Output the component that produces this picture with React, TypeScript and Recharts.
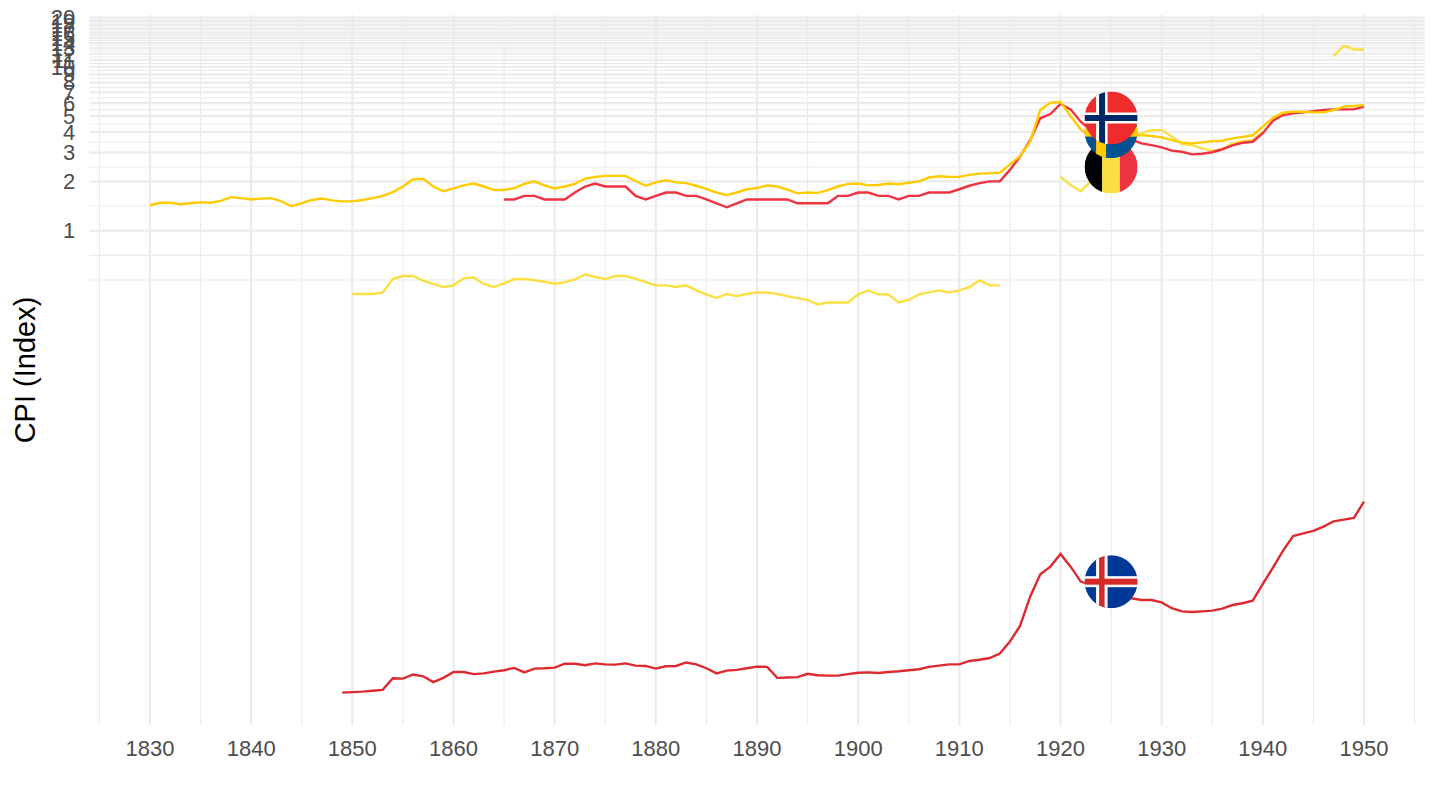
import { CartesianGrid, Line, LineChart, ReferenceDot, XAxis, YAxis } from 'recharts';

const startYear = 1830;
const endYear = 1950;

const xTicks = [1830, 1840, 1850, 1860, 1870, 1880, 1890, 1900, 1910, 1920, 1930, 1940, 1950];
const xMinor = [1825, 1835, 1845, 1855, 1865, 1875, 1885, 1895, 1905, 1915, 1925, 1935, 1945, 1955];
const yTicks = [1, 2, 3, 4, 5, 6, 7, 8, 9, 10, 11, 12, 13, 14, 15, 16, 17, 18, 19, 20];
const yMinor = [0.5, 0.707, 1.414, 2.449, 3.464, 4.472, 5.477, 6.481, 7.483, 8.485, 9.487, 10.49, 11.49, 12.49, 13.49, 14.49, 15.49, 16.49, 17.49, 18.49, 19.49];

// from 1830
const sweden = [
  1.43, 1.48, 1.48, 1.45, 1.47, 1.49, 1.48, 1.52, 1.6, 1.58,
  1.55, 1.57, 1.58, 1.51, 1.41, 1.47, 1.54, 1.57, 1.53, 1.51,
  1.51, 1.54, 1.58, 1.63, 1.72, 1.86, 2.06, 2.07, 1.86, 1.74,
  1.81, 1.89, 1.94, 1.86, 1.77, 1.77, 1.82, 1.93, 2.0, 1.89,
  1.81, 1.86, 1.93, 2.08, 2.13, 2.16, 2.16, 2.16, 2.01, 1.88,
  1.97, 2.03, 1.97, 1.95, 1.88, 1.8, 1.71, 1.65, 1.71, 1.79,
  1.82, 1.89, 1.86, 1.78, 1.69, 1.71, 1.7, 1.77, 1.86, 1.93,
  1.94, 1.89, 1.9, 1.94, 1.92, 1.96, 2.0, 2.11, 2.15, 2.13,
  2.13, 2.19, 2.23, 2.24, 2.26, 2.54, 2.85, 3.49, 5.45, 6.04,
  6.1, 5.01, 4.15, 3.75, 3.6, 3.6, 3.7, 3.78, 3.83, 3.78,
  3.71, 3.57, 3.46, 3.41, 3.46, 3.51, 3.54, 3.66, 3.73, 3.82,
  4.31, 4.89, 5.25, 5.32, 5.32, 5.27, 5.27, 5.45, 5.71, 5.76,
  5.84,
];

// from 1865
const norway = [
  1.55, 1.55, 1.63, 1.63, 1.55, 1.55, 1.55, 1.71, 1.86, 1.94,
  1.86, 1.86, 1.86, 1.63, 1.55, 1.63, 1.71, 1.71, 1.63, 1.63,
  1.55, 1.47, 1.39, 1.47, 1.55, 1.55, 1.55, 1.55, 1.55, 1.47,
  1.47, 1.47, 1.47, 1.63, 1.63, 1.71, 1.71, 1.63, 1.63, 1.55,
  1.63, 1.63, 1.71, 1.71, 1.71, 1.79, 1.88, 1.95, 2.0, 2.0,
  2.35, 2.83, 3.57, 4.85, 5.15, 5.93, 5.5, 4.62, 4.11, 3.95,
  3.85, 3.7, 3.6, 3.41, 3.33, 3.22, 3.08, 3.03, 2.92, 2.95,
  3.01, 3.14, 3.32, 3.44, 3.49, 3.93, 4.69, 5.08, 5.2, 5.27,
  5.35, 5.45, 5.5, 5.5, 5.5, 5.71,
];

// from 1850
const belgiumEarly = [
  0.411, 0.411, 0.411, 0.42, 0.507, 0.529, 0.529, 0.495, 0.473, 0.453,
  0.464, 0.512, 0.519, 0.473, 0.453, 0.477, 0.507, 0.507, 0.498, 0.488,
  0.475, 0.484, 0.505, 0.541, 0.522, 0.507, 0.529, 0.529, 0.509, 0.486,
  0.464, 0.464, 0.453, 0.464, 0.432, 0.409, 0.388, 0.411, 0.399, 0.411,
  0.42, 0.42, 0.411, 0.399, 0.388, 0.378, 0.355, 0.365, 0.365, 0.365,
  0.409, 0.432, 0.409, 0.409, 0.365, 0.378, 0.409, 0.42, 0.432, 0.42,
  0.432, 0.453, 0.498, 0.464, 0.464,
];
// from 1920
const belgiumMid = [
  2.13, 1.9, 1.74, 2.0, 2.45, 2.9, 3.3, 3.65, 3.93, 4.11,
  4.11, 3.75, 3.38, 3.33, 3.18, 3.08, 3.14, 3.41, 3.52, 3.57,
  4.02,
];
// from 1947
const belgiumLate = [11.6, 13.4, 12.8, 12.7];

// from 1849
const iceland = [
  0.00152, 0.00153, 0.00154, 0.00156, 0.00158, 0.00186, 0.00185, 0.00196, 0.00191, 0.00176,
  0.00187, 0.00203, 0.00203, 0.00197, 0.00199, 0.00204, 0.00208, 0.00215, 0.00202, 0.00213,
  0.00214, 0.00216, 0.00228, 0.00228, 0.00223, 0.00229, 0.00226, 0.00225, 0.00229, 0.00222,
  0.00221, 0.00213, 0.0022, 0.00221, 0.00232, 0.00226, 0.00214, 0.00199, 0.00207, 0.00209,
  0.00214, 0.00219, 0.00218, 0.00187, 0.00188, 0.00189, 0.00198, 0.00194, 0.00193, 0.00193,
  0.00197, 0.00201, 0.00202, 0.002, 0.00203, 0.00205, 0.00208, 0.00211, 0.00218, 0.00222,
  0.00226, 0.00226, 0.00237, 0.00241, 0.00247, 0.00263, 0.00311, 0.00388, 0.00585, 0.00801,
  0.00892, 0.01065, 0.00892, 0.00723, 0.0069, 0.0065, 0.0062, 0.0059, 0.00572, 0.00558,
  0.00558, 0.0054, 0.00497, 0.00476, 0.00472, 0.00476, 0.00481, 0.00494, 0.0052, 0.00533,
  0.00553, 0.00699, 0.00879, 0.01116, 0.01372, 0.01424, 0.01472, 0.01564, 0.01686, 0.01726,
  0.01767, 0.02222,
];

const flagYear = 1925;
const flagBelgium = 2.45;
const flagSweden = 4.02;
const flagNorway = 4.87;
const flagIceland = 0.00722;

const pick = (values: number[], from: number, year: number) => {
  const v = values[year - from];
  return v === undefined ? null : v;
};

const table: any[] = [];
for (let year = startYear; year <= endYear; year++) {
  table.push({
    year,
    sweden: pick(sweden, 1830, year),
    norway: pick(norway, 1865, year),
    iceland: pick(iceland, 1849, year),
    belgium: pick(belgiumEarly, 1850, year) ?? pick(belgiumMid, 1920, year) ?? pick(belgiumLate, 1947, year),
  });
}

const R = 26.5;

function FlagClip({ id, cx, cy, children }: any) {
  return (
    <g>
      <clipPath id={id}>
        <circle cx={cx} cy={cy} r={R} />
      </clipPath>
      <g clipPath={`url(#${id})`}>{children}</g>
    </g>
  );
}

function BelgiumFlag({ cx, cy }: any) {
  return (
    <FlagClip id="flag-be" cx={cx} cy={cy}>
      <rect x={cx - R} y={cy - R} width={R * 2 / 3} height={R * 2} fill="#000000" />
      <rect x={cx - R / 3} y={cy - R} width={R * 2 / 3} height={R * 2} fill="#FAE042" />
      <rect x={cx + R / 3} y={cy - R} width={R * 2 / 3} height={R * 2} fill="#EF3340" />
    </FlagClip>
  );
}

function SwedenFlag({ cx, cy }: any) {
  return (
    <FlagClip id="flag-se" cx={cx} cy={cy}>
      <rect x={cx - R} y={cy - R} width={R * 2} height={R * 2} fill="#005293" />
      <rect x={cx - 15} y={cy - R} width={10} height={R * 2} fill="#FECC00" />
      <rect x={cx - R} y={cy - 5} width={R * 2} height={10} fill="#FECC00" />
    </FlagClip>
  );
}

function NorwayFlag({ cx, cy }: any) {
  return (
    <FlagClip id="flag-no" cx={cx} cy={cy}>
      <rect x={cx - R} y={cy - R} width={R * 2} height={R * 2} fill="#EF2B2D" />
      <rect x={cx - 15} y={cy - R} width={11.5} height={R * 2} fill="#FFFFFF" />
      <rect x={cx - R} y={cy - 5.5} width={R * 2} height={11} fill="#FFFFFF" />
      <rect x={cx - 12} y={cy - R} width={6} height={R * 2} fill="#002868" />
      <rect x={cx - R} y={cy - 3} width={R * 2} height={6} fill="#002868" />
    </FlagClip>
  );
}

function IcelandFlag({ cx, cy }: any) {
  return (
    <FlagClip id="flag-is" cx={cx} cy={cy}>
      <rect x={cx - R} y={cy - R} width={R * 2} height={R * 2} fill="#003897" />
      <rect x={cx - 15} y={cy - R} width={11.5} height={R * 2} fill="#FFFFFF" />
      <rect x={cx - R} y={cy - 5.5} width={R * 2} height={11} fill="#FFFFFF" />
      <rect x={cx - 12} y={cy - R} width={5.5} height={R * 2} fill="#D72828" />
      <rect x={cx - R} y={cy - 3} width={R * 2} height={6} fill="#D72828" />
    </FlagClip>
  );
}

const tickStyle = { fontFamily: 'Liberation Sans', fontSize: 22, fill: '#4d4d4d' };

export default function App() {
  return (
    <div style={{ position: 'absolute', left: 0, top: 0, width: 1440, height: 810 }}>
      <LineChart width={1440} height={810} data={table} margin={{ top: 15, right: 15.3, bottom: 0, left: 0 }}>
        <CartesianGrid stroke="#ebebeb" strokeWidth={1.05} horizontalValues={yMinor} verticalValues={xMinor} syncWithTicks={false} />
        <CartesianGrid stroke="#ebebeb" strokeWidth={2.1} horizontalValues={yTicks} verticalValues={xTicks} syncWithTicks={false} />
        <XAxis
          dataKey="year"
          type="number"
          domain={[1824, 1956]}
          ticks={xTicks}
          interval={0}
          height={85}
          axisLine={false}
          tickLine={false}
          tickSize={0}
          tickMargin={15}
          tick={tickStyle}
        />
        <YAxis
          type="number"
          scale="log"
          domain={[0.000964, 20.7]}
          allowDataOverflow
          ticks={yTicks}
          interval={0}
          width={89.3}
          axisLine={false}
          tickLine={false}
          tickSize={0}
          tickMargin={14}
          tick={tickStyle}
          label={{
            value: 'CPI (Index)',
            angle: -90,
            position: 'insideLeft',
            dx: 20,
            style: { fontFamily: 'Liberation Sans', fontSize: 29, fill: '#000000', textAnchor: 'middle' },
          }}
        />
        <Line dataKey="belgium" stroke="#FAE042" strokeWidth={2.4} dot={false} isAnimationActive={false} />
        <Line dataKey="iceland" stroke="#DC2A30" strokeWidth={2.4} dot={false} isAnimationActive={false} />
        <Line dataKey="norway" stroke="#EF3340" strokeWidth={2.4} dot={false} isAnimationActive={false} />
        <Line dataKey="sweden" stroke="#FECC00" strokeWidth={2.4} dot={false} isAnimationActive={false} />
        <ReferenceDot x={flagYear} y={flagIceland} shape={IcelandFlag} />
        <ReferenceDot x={flagYear} y={flagBelgium} shape={BelgiumFlag} />
        <ReferenceDot x={flagYear} y={flagSweden} shape={SwedenFlag} />
        <ReferenceDot x={flagYear} y={flagNorway} shape={NorwayFlag} />
      </LineChart>
    </div>
  );
}
